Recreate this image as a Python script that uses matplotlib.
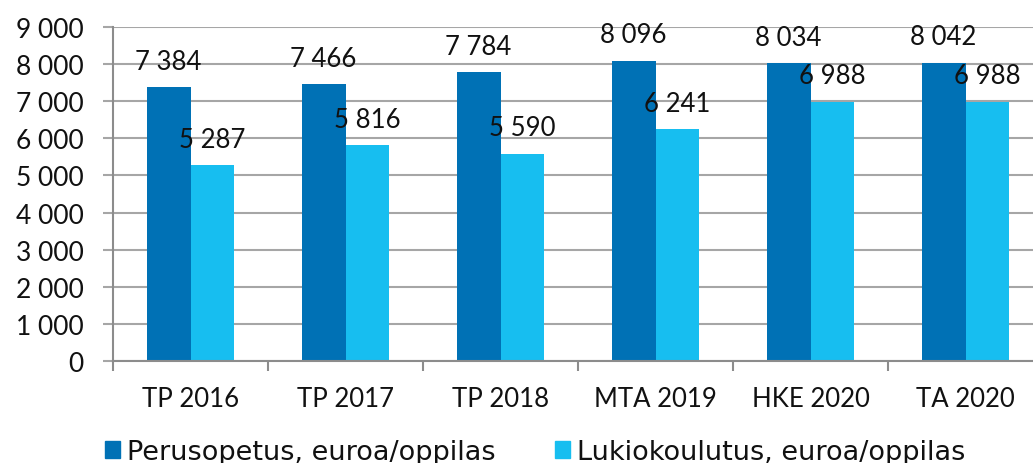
import matplotlib
matplotlib.use("Agg")
import matplotlib.pyplot as plt
import numpy as np
from matplotlib.patches import Patch

categories = ["TP 2016", "TP 2017", "TP 2018", "MTA 2019", "HKE 2020", "TA 2020"]
perusopetus = [7384, 7466, 7784, 8096, 8034, 8042]
lukiokoulutus = [5287, 5816, 5590, 6241, 6988, 6988]
series_names = ["Perusopetus, euroa/oppilas", "Lukiokoulutus, euroa/oppilas"]
yticks = [0, 1000, 2000, 3000, 4000, 5000, 6000, 7000, 8000, 9000]

c_dark = "#0071B5"
c_light = "#17BEF0"
grid_c = "#A6A6A6"
spine_c = "#8C8C8C"

plt.rcParams['font.family'] = ['Lato', 'DejaVu Sans']

def fmt(v):
    return f"{v:,}".replace(",", " ")

W, H = 1033, 464
fig = plt.figure(figsize=(W/100, H/100), dpi=100)
ax = fig.add_axes([113/W, (H-362)/H, 930/W, 334/H])

x = np.arange(len(categories))
bw = 0.283
b1 = ax.bar(x - bw/2, perusopetus, bw, color=c_dark, zorder=3)
b2 = ax.bar(x + bw/2, lukiokoulutus, bw, color=c_light, zorder=3)

for rects, vals in ((b1, perusopetus), (b2, lukiokoulutus)):
    for r, v in zip(rects, vals):
        ax.annotate(fmt(v), (r.get_x() + r.get_width()/2, v), xytext=(0, 9.5),
                    textcoords="offset points", ha="center", va="bottom",
                    fontsize=18.5, color="#111111", zorder=5)

ax.set_xlim(-0.5, len(categories) - 0.5)
ax.set_ylim(0, 9000)
ax.set_yticks(yticks)
ax.set_yticklabels([fmt(v) for v in yticks])
ax.set_xticks(x)
ax.set_xticklabels(categories)
ax.set_xticks(np.arange(-0.5, len(categories), 1.0), minor=True)
ax.tick_params(axis='x', which='major', length=0, pad=18, labelsize=18.5, labelcolor="#111111")
ax.tick_params(axis='x', which='minor', length=7, width=1.5, color=spine_c, direction='out')
ax.tick_params(axis='y', length=7, width=1.5, color=grid_c, pad=14, labelsize=19, labelcolor="#111111")

ax.yaxis.grid(True, color=grid_c, linewidth=1.5, zorder=0)
for s in ("top", "right"):
    ax.spines[s].set_visible(False)
for s in ("left", "bottom"):
    ax.spines[s].set_color(spine_c)
    ax.spines[s].set_linewidth(1.5)
ax.spines["bottom"].set_zorder(4)

handles = [Patch(color=c_dark), Patch(color=c_light)]
fig.legend(handles, series_names, loc="center left", bbox_to_anchor=(105/W, 1 - 453/H),
           ncol=2, frameon=False, prop={'family': ['DejaVu Sans'], 'size': 19.5},
           handlelength=0.55, handleheight=0.55,
           handletextpad=0.26, columnspacing=2.2, borderpad=0, borderaxespad=0,
           labelcolor="#111111")

fig.savefig("out.png", dpi=100)
